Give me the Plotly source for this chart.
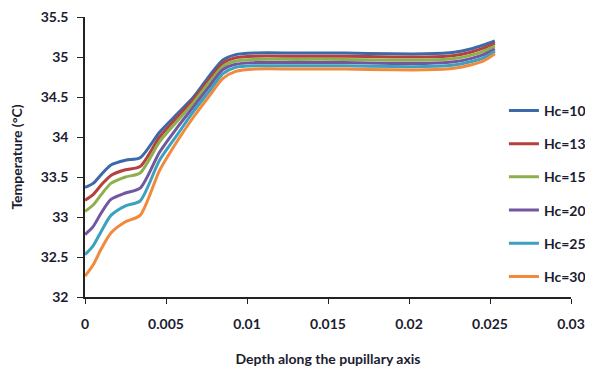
import plotly.graph_objects as go

depth = [0, 0.0005, 0.001, 0.0016, 0.0025, 0.0034, 0.0046, 0.0057, 0.0067, 0.0077,
         0.0085, 0.0093, 0.0105, 0.013, 0.016, 0.019, 0.021, 0.0228, 0.0238, 0.0246, 0.0253]

hc10 = [33.37, 33.42, 33.53, 33.65, 33.71, 33.74, 34.06, 34.29, 34.50, 34.77,
        34.96, 35.03, 35.05, 35.05, 35.05, 35.04, 35.04, 35.06, 35.10, 35.15, 35.20]
hc13 = [33.21, 33.28, 33.40, 33.52, 33.59, 33.63, 34.00, 34.25, 34.47, 34.73,
        34.92, 34.99, 35.01, 35.01, 35.01, 35.00, 35.00, 35.02, 35.06, 35.11, 35.17]
hc15 = [33.07, 33.15, 33.28, 33.42, 33.50, 33.55, 33.94, 34.20, 34.43, 34.69,
        34.88, 34.95, 34.97, 34.97, 34.97, 34.96, 34.96, 34.98, 35.02, 35.07, 35.14]
hc20 = [32.78, 32.88, 33.05, 33.22, 33.30, 33.36, 33.81, 34.12, 34.38, 34.64,
        34.84, 34.91, 34.93, 34.93, 34.93, 34.92, 34.92, 34.94, 34.98, 35.03, 35.10]
hc25 = [32.53, 32.64, 32.82, 33.02, 33.14, 33.20, 33.71, 34.03, 34.32, 34.58,
        34.79, 34.87, 34.89, 34.89, 34.89, 34.88, 34.88, 34.90, 34.94, 34.99, 35.07]
hc30 = [32.26, 32.40, 32.60, 32.80, 32.94, 33.02, 33.58, 33.95, 34.25, 34.52,
        34.73, 34.82, 34.85, 34.85, 34.85, 34.84, 34.84, 34.86, 34.90, 34.95, 35.04]

series_names = ["Hc=10", "Hc=13", "Hc=15", "Hc=20", "Hc=25", "Hc=30"]
series_values = [hc10, hc13, hc15, hc20, hc25, hc30]
colors = ["#3C69A8", "#B5403D", "#8DB04E", "#7257A0", "#3BA1BD", "#F08A3C"]

x_ticks = [0, 0.005, 0.01, 0.015, 0.02, 0.025, 0.03]
x_tick_labels = ["0", "0.005", "0.01", "0.015", "0.02", "0.025", "0.03"]
y_ticks = [32, 32.5, 33, 33.5, 34, 34.5, 35, 35.5]
y_tick_labels = ["32", "32.5", "33", "33.5", "34", "34.5", "35", "35.5"]

font_family = "Lato, 'Open Sans', sans-serif"
text_col = "#1c1c30"

fig = go.Figure()
for name, vals, col in zip(series_names, series_values, colors):
    fig.add_trace(go.Scatter(
        x=depth, y=vals, name=name, mode="lines",
        line=dict(color=col, width=3, shape="spline", smoothing=0.7),
        legendgroup=name,
    ))

fig.update_layout(
    width=593, height=376,
    margin=dict(l=77, r=30, t=9, b=87),
    paper_bgcolor="white", plot_bgcolor="white",
    font=dict(family=font_family, size=13, color=text_col),
    showlegend=True,
    legend=dict(
        x=0.862, y=0.722, xanchor="left", yanchor="top",
        bgcolor="rgba(0,0,0,0)", tracegroupgap=12,
        font=dict(family=font_family, size=14, color=text_col, weight="bold"),
    ),
    xaxis=dict(
        range=[0, 0.03], tickmode="array", tickvals=x_ticks, ticktext=x_tick_labels,
        automargin=False, ticklabeloverflow="allow",
        showgrid=False, zeroline=False, showline=True, linecolor="#222", linewidth=1.5,
        ticks="outside", ticklen=5, tickcolor="#222", tickwidth=1.2,
        ticklabelstandoff=8,
        tickfont=dict(size=14, family=font_family, color=text_col, weight="bold"),
        title=dict(text="<b>Depth along the pupillary axis</b>", standoff=24,
                   font=dict(size=14, family=font_family, color=text_col)),
    ),
    yaxis=dict(
        range=[32, 35.5], tickmode="array", tickvals=y_ticks, ticktext=y_tick_labels,
        automargin=False, ticklabeloverflow="allow",
        showgrid=False, zeroline=False, showline=True, linecolor="#222", linewidth=1.5,
        ticks="outside", ticklen=6, tickcolor="#222", tickwidth=1.2,
        ticklabelstandoff=6,
        tickfont=dict(size=14, family=font_family, color=text_col, weight="bold"),
        title=dict(text="<b>Temperature (°C)</b>", standoff=19,
                   font=dict(size=14, family=font_family, color=text_col)),
    ),
)

fig.write_html("out.html")
